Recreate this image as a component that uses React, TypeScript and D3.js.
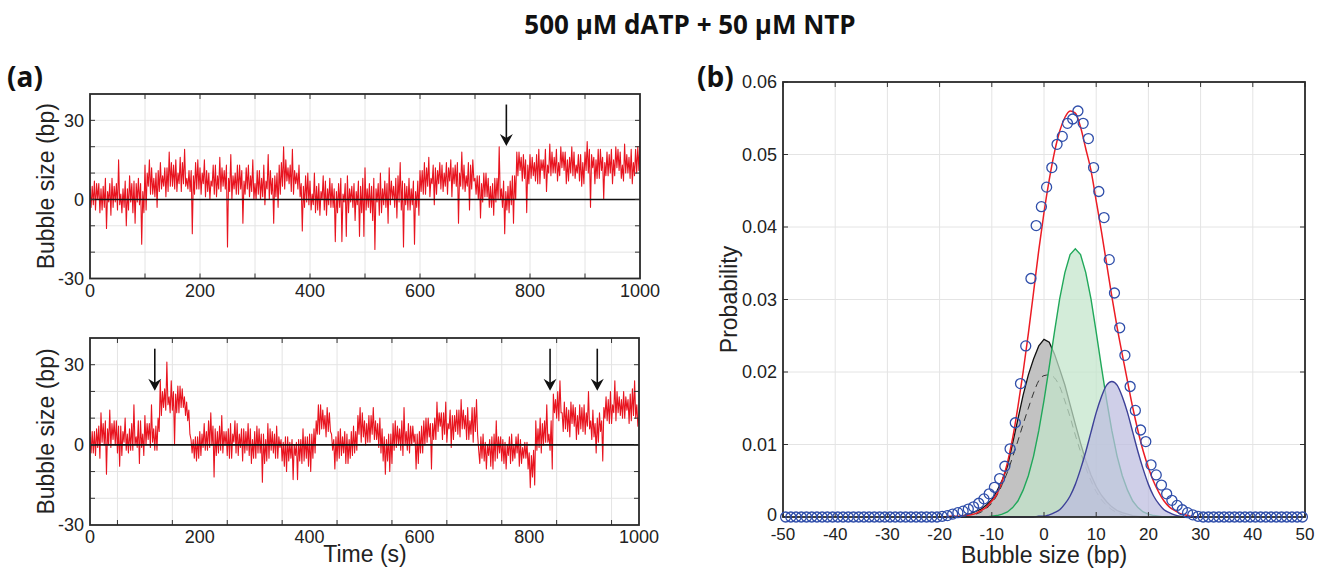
import React, { useEffect, useRef } from 'react';
import * as d3 from 'd3';

// ---------- Panel (a): time traces (sampled every 2 s, 0..1000 s) ----------
const traceStep = 2;
const traceTop = [
  4, -3, 5, -2, 7, -4, 6, 0, 6, -5, 4, -4, 5, -3, 8, -11, 3, -1, 6, -6, 8, -3, 5, -1, 6, -4, 15, -2, 2, -5, 4, -3, 7, -10, 4, -4, 9, -1, 6, -5, 7, -9, 6, -1, 8, -2, 6, -17, 3, -5,
  13, -4, 10, 5, 15, 2, 12, 2, 8, 1, 10, -3, 11, 3, 14, 4, 9, 5, 12, 1, 12, 3, 18, 5, 14, 5, 13, 4, 15, 3, 10, 6, 16, 3, 14, 6, 19, 5, 8, 4, 11, 3, 11, -13, 9, 2, 14, 4, 15, 4,
  12, 2, 10, 6, 15, 1, 11, 3, 10, 0, 7, 5, 13, 2, 13, 1, 9, 4, 16, 3, 12, 5, 11, 4, 13, -18, 8, 3, 17, 0, 9, 4, 10, 2, 13, 2, 13, 4, 11, -9, 7, 2, 12, 4, 13, 1, 9, 3, 15, 0,
  6, 0, 11, 2, 11, 0, 8, 1, 13, -2, 7, 4, 17, 0, 11, 2, 8, -9, 9, 1, 10, -3, 13, 2, 14, 5, 20, 4, 15, 7, 12, 6, 13, 3, 19, 2, 11, 6, 10, 4, 13, 1, 6, -12, 5, -3, 9, -1, 10, -2,
  7, -4, 2, -2, 10, -5, 5, -4, 6, -6, 3, 0, 9, -4, 7, -6, 4, -2, 8, -3, 6, -3, 4, -16, 3, -5, 6, -3, 8, -16, 2, -1, 6, -14, 9, -5, 4, -1, 5, -3, 6, -8, 3, -2, 7, -14, 5, -5, 8, -14,
  12, -4, 4, -3, 6, -5, 5, -8, 8, -19, 4, -1, 6, -6, 10, -5, 4, -2, 7, -3, 6, -9, 12, -2, 7, 0, 5, -3, 8, -7, 9, -1, 14, -4, 7, -18, 6, -2, 5, -4, 8, -4, 4, -2, 7, -17, 3, -3, 7, -6,
  11, 3, 11, 2, 14, 2, 12, 5, 16, 1, 8, 6, 13, -2, 12, 2, 11, 6, 14, 4, 13, 3, 10, 5, 14, 2, 12, 7, 15, 1, 12, 6, 13, 5, 14, -9, 10, 5, 18, 4, 13, 3, 9, 5, 14, -4, 13, 4, 15, 7,
  8, 2, 9, 0, 9, -7, 6, -1, 10, 1, 10, 1, 8, -3, 5, -3, 6, -6, 8, -1, 8, 0, 20, 0, 4, -3, 7, -13, 3, -4, 5, -5, 7, -2, 9, -9, 9, 0, 18, 9, 18, 11, 16, 7, 17, 8, 15, -5, 13, 6,
  17, 8, 16, 9, 14, 7, 17, 6, 19, 6, 15, 11, 15, 8, 19, 3, 13, 10, 21, 9, 18, 10, 16, 10, 19, 7, 14, 9, 20, 12, 18, 11, 18, 6, 15, 7, 16, 10, 20, 9, 18, 8, 13, 10, 17, 7, 17, 5, 14, 6,
  18, 11, 22, 10, 19, -3, 17, 12, 16, 6, 15, 8, 19, 8, 19, 11, 16, 0, 14, 9, 18, 9, 17, 10, 19, 6, 15, 9, 20, 12, 19, 11, 18, 8, 13, 7, 21, 10, 17, 10, 16, 8, 19, 6, 14, 9, 19, 10, 20, 11,
  22,
];
const traceBottom = [
  3, -3, 5, -3, 5, -4, 6, -1, 7, -5, 12, 1, 8, 0, 9, -11, 6, 0, 13, -1, 8, 2, 9, 0, 9, -3, 7, -8, 7, -4, 5, 1, 10, -2, 4, -3, 6, -2, 8, -2, 15, 0, 3, -1, 9, -7, 9, -1, 4, -4,
  11, 0, 8, 2, 8, -1, 15, 1, 6, -2, 7, -2, 10, 5, 24, 11, 20, 14, 21, 13, 31, 15, 18, 12, 24, 13, 20, 0, 19, 12, 22, 12, 22, 14, 21, 14, 18, 11, 16, 9, 13, 4, 2, -3, 2, -5, 3, -6, 3, -5,
  5, -4, 4, -1, 8, -2, 5, -2, 9, -1, 12, 0, 7, -12, 6, -4, 5, -3, 7, -2, 11, -3, 5, 0, 5, -4, 6, -5, 8, -5, 4, 1, 9, -3, 8, -4, 4, -1, 6, -6, 6, -3, 5, -2, 8, -4, 6, -7, 2, -5,
  5, -5, 7, -3, 6, -3, 4, -14, 4, -7, 2, -6, 8, -5, 6, -2, 5, -3, 4, -5, 7, -5, 3, -1, 2, -6, 1, -8, 3, -10, 3, -6, 1, -5, 2, -13, 0, -4, 1, -13, 2, -6, 2, -7, 6, -6, 3, -5, 3, -8,
  4, -10, 4, -5, 6, -3, 9, 4, 15, 4, 15, 6, 13, 6, 11, 3, 14, 5, 12, 5, 4, -2, 2, -9, 3, -6, 5, -5, 6, -4, 3, -3, 5, -7, 4, -7, 2, -5, 5, -4, 7, -3, 5, -2, 11, 4, 14, 1, 12, 3,
  9, 0, 8, 1, 11, 1, 11, 4, 14, 2, 9, 2, 8, -1, 10, -3, 6, -6, 3, -11, 2, -6, 4, -10, 4, -7, 8, -2, 9, -1, 7, 0, 6, -2, 9, -4, 14, 0, 5, -2, 8, -3, 7, 0, 7, 1, 4, -9, 4, -7,
  5, -3, 7, -3, 9, 0, 10, 1, 10, 3, 8, -9, 8, 2, 10, 2, 16, 5, 12, 7, 12, 2, 12, 4, 16, 1, 8, 6, 13, -1, 11, 2, 11, 5, 13, 4, 13, 3, 17, 6, 13, 6, 11, 2, 14, 2, 9, 4, 14, 1,
  14, 5, 17, 4, -2, -7, 3, -5, 4, -6, 1, -9, 0, -4, 2, -8, 3, -9, 4, -6, 9, -5, 3, -3, 3, -6, 2, -7, 1, -9, 0, -4, 3, -7, 4, -6, 0, -5, 3, -3, 4, -8, 2, -7, -1, -5, 1, -5, 1, -9,
  -3, -16, -4, -12, -2, -15, 9, -2, 6, -1, 10, -3, 8, 0, 9, 1, 15, 1, 4, -2, 9, -9, 19, 12, 17, 10, 20, 9, 24, 12, 12, 5, 16, 6, 14, 5, 13, 3, 16, 8, 15, 7, 14, 2, 11, 4, 15, 6, 14, 5,
  15, 4, 12, 7, 20, 6, 9, 2, 13, 3, 8, -3, 10, 1, 12, 5, 9, -6, 14, 10, 18, 9, 17, 8, 20, 8, 15, 12, 24, 9, 20, 12, 18, 11, 17, 10, 20, 10, 18, 13, 17, 8, 19, 9, 21, 11, 24, 10, 15, 7,
  10,
];
const arrowsTop = [757];
const arrowsBottom = [118, 838, 924];
const timeTickLabels = [0, 200, 400, 600, 800, 1000];
const bubbleTickLabels = [-30, 0, 30];
const timeGridTop = [100, 200, 300, 400, 500, 600, 700, 800, 900];
const timeGridBottom = [50, 150, 250, 350, 450, 550, 650, 750, 850, 950];
const bubbleGrid = [-20, -10, 10, 20, 30];

// ---------- Panel (b): histogram and fits ----------
const binCenters = d3.range(-49.5, 50, 1);
const histProb = [
  0, 0, 0, 0, 0, 0, 0, 0, 0, 0, 0, 0, 0, 0, 0, 0, 0, 0, 0, 0, 0, 0, 0, 0, 0, 0, 0, 0, 0, 0,
  0.0001, 0.0002, 0.0004, 0.0006, 0.0008, 0.0011, 0.0014, 0.0019, 0.0025, 0.0032,
  0.0041, 0.0053, 0.0070, 0.0094, 0.0130, 0.0184, 0.0236, 0.0329, 0.0402, 0.0428,
  0.0455, 0.0482, 0.0514, 0.0525, 0.0543, 0.0549, 0.0560, 0.0543, 0.0522, 0.0482,
  0.0449, 0.0413, 0.0355, 0.0309, 0.0261, 0.0223, 0.0180, 0.0147, 0.0120, 0.0104,
  0.0072, 0.0058, 0.0044, 0.0032, 0.0023, 0.0016, 0.0010, 0.0006, 0.0003, 0.0001,
  0, 0, 0, 0, 0, 0, 0, 0, 0, 0, 0, 0, 0, 0, 0, 0, 0, 0, 0, 0,
];
const fitX = d3.range(-20, 31);
const fitTotal = [
  0, 0, 0.0001, 0.0001, 0.0001, 0.0002, 0.0003, 0.0005, 0.0009, 0.0014,
  0.0022, 0.0032, 0.0050, 0.0075, 0.0109, 0.0152, 0.0200, 0.0253, 0.0310, 0.0368,
  0.0420, 0.0465, 0.0503, 0.0532, 0.0551, 0.0560, 0.0557, 0.0538, 0.0508, 0.0478,
  0.0436, 0.0394, 0.0349, 0.0304, 0.0262, 0.0224, 0.0187, 0.0151, 0.0119, 0.0091,
  0.0068, 0.0049, 0.0034, 0.0022, 0.0014, 0.0009, 0.0005, 0.0003, 0.0001, 0, 0,
];
const fitClosed = [
  0, 0, 0, 0, 0.0001, 0.0003, 0.0005, 0.0008, 0.0011, 0.0017,
  0.0024, 0.0036, 0.0051, 0.0070, 0.0102, 0.0135, 0.0168, 0.0196, 0.0218, 0.0236,
  0.0245, 0.0241, 0.0225, 0.0204, 0.0182, 0.0155, 0.0128, 0.0102, 0.0078, 0.0058,
  0.0042, 0.0030, 0.0021, 0.0014, 0.0009, 0.0006, 0.0004, 0.0002, 0.0001, 0,
  0, 0, 0, 0, 0, 0, 0, 0, 0, 0, 0,
];
const fitClosedAlt = [
  0, 0, 0, 0, 0, 0, 0, 0.0004, 0.0007, 0.0012,
  0.0019, 0.0030, 0.0045, 0.0062, 0.0083, 0.0105, 0.0128, 0.0150, 0.0171, 0.0188,
  0.0195, 0.0196, 0.0192, 0.0180, 0.0160, 0.0138, 0.0113, 0.0090, 0.0068, 0.0050,
  0.0035, 0.0024, 0.0016, 0.0010, 0.0006, 0.0003, 0.0001, 0, 0, 0,
  0, 0, 0, 0, 0, 0, 0, 0, 0, 0, 0,
];
const fitOpen1 = [
  0, 0, 0, 0, 0, 0, 0, 0, 0, 0,
  0.0001, 0.0002, 0.0004, 0.0007, 0.0013, 0.0022, 0.0037, 0.0057, 0.0084, 0.0119,
  0.0161, 0.0207, 0.0255, 0.0301, 0.0337, 0.0362, 0.0370, 0.0362, 0.0337, 0.0301,
  0.0255, 0.0207, 0.0161, 0.0119, 0.0084, 0.0057, 0.0037, 0.0022, 0.0013, 0.0007,
  0.0004, 0.0002, 0.0001, 0, 0, 0, 0, 0, 0, 0, 0,
];
const fitOpen2 = [
  0, 0, 0, 0, 0, 0, 0, 0, 0, 0,
  0, 0, 0, 0, 0, 0, 0, 0, 0, 0.0001,
  0.0001, 0.0003, 0.0006, 0.0010, 0.0018, 0.0029, 0.0045, 0.0066, 0.0090, 0.0117,
  0.0144, 0.0166, 0.0182, 0.0187, 0.0182, 0.0166, 0.0144, 0.0117, 0.0090, 0.0066,
  0.0045, 0.0029, 0.0018, 0.0010, 0.0006, 0.0003, 0.0001, 0, 0, 0, 0,
];
const bpTicks = [-50, -40, -30, -20, -10, 0, 10, 20, 30, 40, 50];
const probTicks = [0, 0.01, 0.02, 0.03, 0.04, 0.05, 0.06];

const AX = "'Liberation Sans', Arial, Helvetica, sans-serif";
const BOLD = "'Open Sans', 'Noto Sans', sans-serif";

type Box = { x0: number; x1: number; y0: number; y1: number };

function drawTrace(
  root: d3.Selection<SVGSVGElement, unknown, null, undefined>,
  id: string,
  values: number[],
  box: Box,
  gridX: number[],
  arrows: number[],
  labelY: number,
) {
  const x = d3.scaleLinear().domain([0, 1000]).range([box.x0, box.x1]);
  const y = d3.scaleLinear().domain([-30, 40]).range([box.y1, box.y0]);
  const g = root.append('g');
  const grid = '#e4e4e4';
  g.selectAll('.gx').data(gridX).enter().append('line')
    .attr('x1', d => x(d)).attr('x2', d => x(d)).attr('y1', box.y0).attr('y2', box.y1)
    .attr('stroke', grid).attr('stroke-width', 1);
  g.selectAll('.gy').data(bubbleGrid).enter().append('line')
    .attr('x1', box.x0).attr('x2', box.x1).attr('y1', d => y(d)).attr('y2', d => y(d))
    .attr('stroke', grid).attr('stroke-width', 1);

  root.append('clipPath').attr('id', id).append('rect')
    .attr('x', box.x0).attr('y', box.y0).attr('width', box.x1 - box.x0).attr('height', box.y1 - box.y0);
  const line = d3.line<number>().x((_, i) => x(i * traceStep)).y(d => y(d));
  g.append('path').datum(values).attr('d', line).attr('fill', 'none')
    .attr('stroke', '#e8141f').attr('stroke-width', 1.1).attr('stroke-linejoin', 'round')
    .attr('clip-path', `url(#${id})`);
  g.append('line').attr('x1', box.x0).attr('x2', box.x1).attr('y1', y(0)).attr('y2', y(0))
    .attr('stroke', '#111').attr('stroke-width', 1.6);

  const tl = 5;
  gridX.forEach(t => {
    g.append('line').attr('x1', x(t)).attr('x2', x(t)).attr('y1', box.y1).attr('y2', box.y1 - tl).attr('stroke', '#333');
    g.append('line').attr('x1', x(t)).attr('x2', x(t)).attr('y1', box.y0).attr('y2', box.y0 + tl).attr('stroke', '#333');
  });
  [...bubbleGrid, 0].forEach(v => {
    g.append('line').attr('x1', box.x0).attr('x2', box.x0 + tl).attr('y1', y(v)).attr('y2', y(v)).attr('stroke', '#333');
    g.append('line').attr('x1', box.x1).attr('x2', box.x1 - tl).attr('y1', y(v)).attr('y2', y(v)).attr('stroke', '#333');
  });
  g.append('rect').attr('x', box.x0).attr('y', box.y0).attr('width', box.x1 - box.x0).attr('height', box.y1 - box.y0)
    .attr('fill', 'none').attr('stroke', '#2a2a2a').attr('stroke-width', 1.8);

  arrows.forEach(t => {
    const ax = x(t);
    const tipY = y(20.3);
    g.append('line').attr('x1', ax).attr('x2', ax).attr('y1', y(36)).attr('y2', tipY - 6)
      .attr('stroke', '#111').attr('stroke-width', 1.6);
    g.append('path')
      .attr('d', `M${ax},${tipY} L${ax - 6.5},${tipY - 12} L${ax},${tipY - 8} L${ax + 6.5},${tipY - 12} Z`)
      .attr('fill', '#111');
  });

  g.selectAll('.tx').data(timeTickLabels).enter().append('text')
    .attr('x', d => x(d)).attr('y', labelY).attr('text-anchor', 'middle')
    .attr('font-family', AX).attr('font-size', 18).attr('fill', '#222').text(d => String(d));
  g.selectAll('.ty').data(bubbleTickLabels).enter().append('text')
    .attr('x', box.x0 - 6).attr('y', d => y(d)).attr('dy', '0.36em').attr('text-anchor', 'end')
    .attr('font-family', AX).attr('font-size', 18).attr('fill', '#222').text(d => String(d));
  g.append('text')
    .attr('transform', `translate(${box.x0 - 36},${(box.y0 + box.y1) / 2}) rotate(-90)`)
    .attr('text-anchor', 'middle').attr('font-family', AX).attr('font-size', 23).attr('fill', '#222')
    .text('Bubble size (bp)');
}

export default function App() {
  const ref = useRef<SVGSVGElement>(null);
  useEffect(() => {
    if (!ref.current) return;
    const svg = d3.select(ref.current);
    svg.selectAll('*').remove();

    svg.append('text').attr('x', 690).attr('y', 34).attr('text-anchor', 'middle')
      .attr('font-family', BOLD).attr('font-weight', 700).attr('font-size', 26).attr('fill', '#111')
      .text('500 μM dATP + 50 μM NTP');
    svg.append('text').attr('x', 7).attr('y', 87).attr('font-family', BOLD).attr('font-weight', 700)
      .attr('font-size', 28).attr('fill', '#111').text('(a)');
    svg.append('text').attr('x', 697).attr('y', 87).attr('font-family', BOLD).attr('font-weight', 700)
      .attr('font-size', 28).attr('fill', '#111').text('(b)');

    drawTrace(svg, 'clipTop', traceTop, { x0: 90, x1: 640, y0: 94, y1: 278.5 }, timeGridTop, arrowsTop, 297);
    drawTrace(svg, 'clipBot', traceBottom, { x0: 90, x1: 639, y0: 338, y1: 525 }, timeGridBottom, arrowsBottom, 543);
    svg.append('text').attr('x', 365).attr('y', 562).attr('text-anchor', 'middle')
      .attr('font-family', AX).attr('font-size', 23).attr('fill', '#222').text('Time (s)');

    // ---- panel b ----
    const b: Box = { x0: 783, x1: 1305, y0: 82, y1: 517 };
    const x = d3.scaleLinear().domain([-50, 50]).range([b.x0, b.x1]);
    const y = d3.scaleLinear().domain([0, 0.06]).range([b.y1, b.y0]);
    const g = svg.append('g');
    const grid = '#e4e4e4';
    g.selectAll('.gx').data(bpTicks.slice(1, -1)).enter().append('line')
      .attr('x1', d => x(d)).attr('x2', d => x(d)).attr('y1', b.y0).attr('y2', b.y1)
      .attr('stroke', grid);
    g.selectAll('.gy').data(probTicks.slice(1, -1)).enter().append('line')
      .attr('x1', b.x0).attr('x2', b.x1).attr('y1', d => y(d)).attr('y2', d => y(d))
      .attr('stroke', grid);

    const pts = (arr: number[]) => fitX.map((v, i) => [v, arr[i]] as [number, number]);
    const area = d3.area<[number, number]>().x(d => x(d[0])).y0(y(0)).y1(d => y(d[1]));
    const areaSmooth = d3.area<[number, number]>().x(d => x(d[0])).y0(y(0)).y1(d => y(d[1])).curve(d3.curveMonotoneX);
    const ln = d3.line<[number, number]>().x(d => x(d[0])).y(d => y(d[1]));
    const lnSmooth = d3.line<[number, number]>().x(d => x(d[0])).y(d => y(d[1])).curve(d3.curveMonotoneX);

    g.append('path').datum(pts(fitClosed)).attr('d', area).attr('fill', '#c2c2c2');
    g.append('path').datum(pts(fitClosed)).attr('d', ln).attr('fill', 'none').attr('stroke', '#111').attr('stroke-width', 1.3);
    const dashedPts = pts(fitClosedAlt).filter(d => d[0] >= -13 && d[0] <= 16);
    g.append('path').datum(dashedPts).attr('d', lnSmooth).attr('fill', 'none')
      .attr('stroke', '#333').attr('stroke-width', 1).attr('stroke-dasharray', '7,5');
    g.append('path').datum(pts(fitOpen1)).attr('d', area).attr('fill', '#c2e4cb').attr('fill-opacity', 0.72);
    g.append('path').datum(pts(fitOpen1)).attr('d', ln).attr('fill', 'none').attr('stroke', '#20a85a').attr('stroke-width', 1.4);
    g.append('path').datum(pts(fitOpen2)).attr('d', areaSmooth).attr('fill', '#bcbcdf').attr('fill-opacity', 0.72);
    g.append('path').datum(pts(fitOpen2)).attr('d', lnSmooth).attr('fill', 'none').attr('stroke', '#3d4198').attr('stroke-width', 1.4);
    g.append('path').datum(pts(fitTotal)).attr('d', lnSmooth).attr('fill', 'none').attr('stroke', '#ec1c24').attr('stroke-width', 1.5);

    const tl = 5;
    bpTicks.forEach(t => {
      g.append('line').attr('x1', x(t)).attr('x2', x(t)).attr('y1', b.y1).attr('y2', b.y1 - tl).attr('stroke', '#333');
      g.append('line').attr('x1', x(t)).attr('x2', x(t)).attr('y1', b.y0).attr('y2', b.y0 + tl).attr('stroke', '#333');
    });
    probTicks.forEach(v => {
      g.append('line').attr('x1', b.x0).attr('x2', b.x0 + tl).attr('y1', y(v)).attr('y2', y(v)).attr('stroke', '#333');
      g.append('line').attr('x1', b.x1).attr('x2', b.x1 - tl).attr('y1', y(v)).attr('y2', y(v)).attr('stroke', '#333');
    });
    g.append('rect').attr('x', b.x0).attr('y', b.y0).attr('width', b.x1 - b.x0).attr('height', b.y1 - b.y0)
      .attr('fill', 'none').attr('stroke', '#2a2a2a').attr('stroke-width', 1.8);

    g.selectAll('.pt').data(binCenters.map((c, i) => [c, histProb[i]] as [number, number])).enter()
      .append('circle').attr('cx', d => x(d[0])).attr('cy', d => y(d[1])).attr('r', 5)
      .attr('fill', 'none').attr('stroke', '#2f4eaa').attr('stroke-width', 1.3);

    g.selectAll('.tx').data(bpTicks).enter().append('text')
      .attr('x', d => x(d)).attr('y', 540).attr('text-anchor', 'middle')
      .attr('font-family', AX).attr('font-size', 17).attr('fill', '#222').text(d => String(d));
    g.selectAll('.ty').data(probTicks).enter().append('text')
      .attr('x', b.x0 - 6).attr('y', d => y(d)).attr('dy', d => (d === 0 ? '0.2em' : '0.36em')).attr('text-anchor', 'end')
      .attr('font-family', AX).attr('font-size', 18).attr('fill', '#222').text(d => (d === 0 ? '0' : String(d)));
    g.append('text').attr('transform', `translate(737,${(b.y0 + b.y1) / 2}) rotate(-90)`)
      .attr('text-anchor', 'middle').attr('font-family', AX).attr('font-size', 23).attr('fill', '#222').text('Probability');
    g.append('text').attr('x', (b.x0 + b.x1) / 2).attr('y', 563).attr('text-anchor', 'middle')
      .attr('font-family', AX).attr('font-size', 23).attr('fill', '#222').text('Bubble size (bp)');
  }, []);
  return (
    <svg ref={ref} width={1317} height={568}
      style={{ position: 'absolute', left: 0, top: 0, background: '#fff' }} />
  );
}
